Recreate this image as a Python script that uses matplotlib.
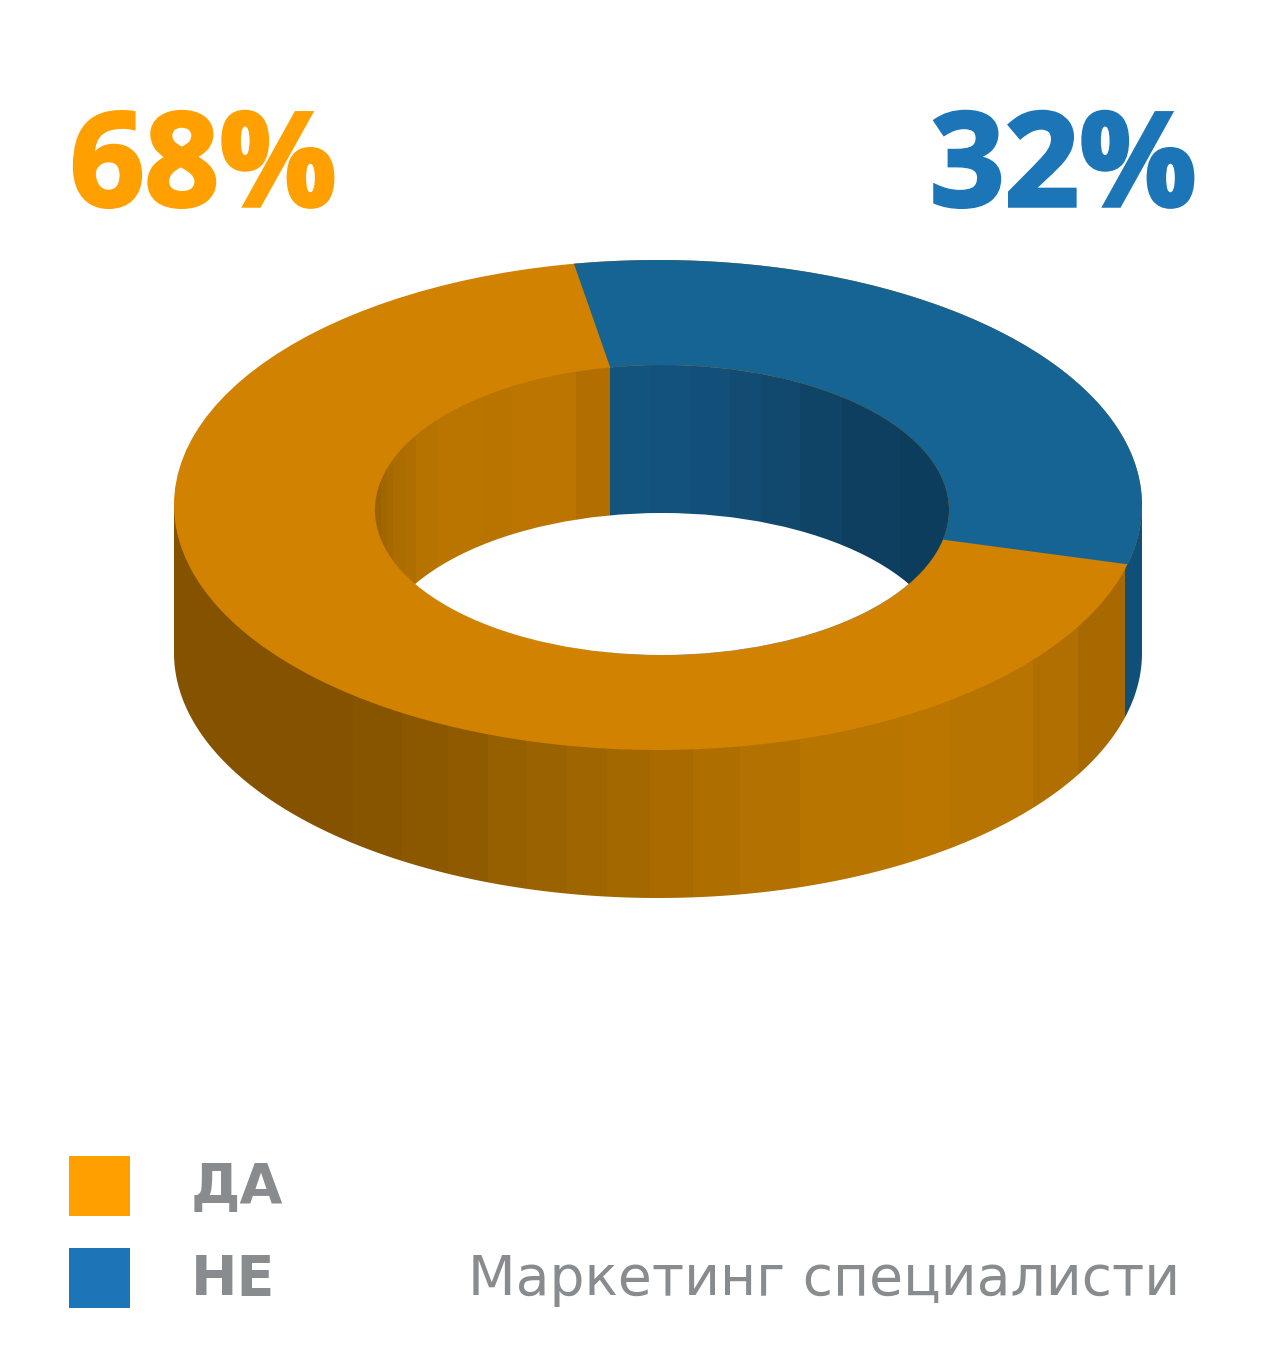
import numpy as np
import matplotlib
matplotlib.use("Agg")
import matplotlib.pyplot as plt
from matplotlib.colors import to_rgb
from matplotlib.patches import Ellipse, Polygon, Rectangle
import matplotlib.patheffects as pe

labels = ["ДА", "НЕ"]
shares = [68, 32]
pct_labels = ["68%", "32%"]
caption = "Маркетинг специалисти"

ORANGE = "#ffa000"
BLUE = "#1b75b7"
GREY = "#898c8e"
TOP_ORANGE = "#d08200"
TOP_BLUE = "#166493"

# shading bands of the walls, right edge of each band in pixels
outer_edges = [353, 402, 448, 488, 527, 567, 607, 650, 693, 740, 800, 904, 950, 1033, 1078, 1125]
outer_colors = ["#855300", "#875500", "#8b5800", "#905b00", "#965f00", "#9a6200", "#9f6500", "#a46800",
                "#a96b00", "#ae6e00", "#b27100", "#b87500", "#bb7600", "#b87400", "#b06f00", "#a86a00"]
inner_edges = [381, 387, 393, 405, 416, 437, 485, 512, 576, 610,
               650, 690, 730, 761, 800, 842, 900, 950]
inner_colors = ["#9a6200", "#a26600", "#a66900", "#ab6c00", "#af6f00", "#b67300", "#ba7500", "#b97400", "#bb7500", "#b26f00",
                "#13547f", "#13527c", "#135079", "#124c73", "#11486e", "#104467", "#0e3f60", "#0d3d5d"]
OUTER_RIGHT = "#0f4f78"

# ring geometry in pixels
OUT_CX, OUT_CY, OUT_RX, OUT_RY = 658, 505, 484, 245
IN_CX, IN_CY, IN_RX, IN_RY = 662, 510, 287, 145
DEPTH = 148
START_OUT, SKEW_OUT = 100.0, 1.2
START_IN, SKEW_IN = 100.4, 3.0


def arc(cx, cy, rx, ry, a0, a1, n=200):
    t = np.radians(np.linspace(a0, a1, n))
    return np.column_stack([cx + rx * np.cos(t), cy - ry * np.sin(t)])


def band_image(ax, x0, x1, y0, y1, edges, colors, clip, last=None):
    # one pixel column per x, drawn as an image and clipped to the wall
    xs = np.arange(x0, x1) + 0.5
    ids = np.searchsorted(edges, xs)
    rgb = [to_rgb(c) for c in colors] + [to_rgb(last or colors[-1])]
    row = np.array([rgb[min(i, len(rgb) - 1)] for i in ids])[np.newaxis, :, :]
    im = ax.imshow(row, extent=(x0, x1, y1, y0), aspect="auto", interpolation="nearest", zorder=clip.get_zorder())
    im.set_clip_path(clip)


def heavy(color):
    return [pe.withStroke(linewidth=2.5, foreground=color, joinstyle="miter")]


fig = plt.figure(figsize=(12.8, 13.62), dpi=100)
ax = fig.add_axes([0, 0, 1, 1])

sweep = shares[1] * 3.6

# outer wall
lower = arc(OUT_CX, OUT_CY + DEPTH, OUT_RX, OUT_RY, 180, 360)
wall = Polygon(np.vstack([[[OUT_CX - OUT_RX, OUT_CY]], lower, [[OUT_CX + OUT_RX, OUT_CY]]]),
               closed=True, fc="none", ec="none", zorder=1)
ax.add_patch(wall)
band_image(ax, OUT_CX - OUT_RX, OUT_CX + OUT_RX, OUT_CY, OUT_CY + DEPTH + OUT_RY,
           outer_edges, outer_colors, wall, last=OUTER_RIGHT)

# top surface
ax.add_patch(Ellipse((OUT_CX, OUT_CY), 2 * OUT_RX, 2 * OUT_RY, fc=TOP_ORANGE, ec="none", zorder=2))
outer_arc = arc(OUT_CX, OUT_CY, OUT_RX, OUT_RY, START_OUT, START_OUT - sweep + SKEW_OUT)
inner_arc = arc(IN_CX, IN_CY, IN_RX, IN_RY, START_IN - sweep + SKEW_IN, START_IN)
ax.add_patch(Polygon(np.vstack([outer_arc, inner_arc]), closed=True, fc=TOP_BLUE, ec="none", zorder=3))

# inner wall and the hole
hole = Ellipse((IN_CX, IN_CY), 2 * IN_RX, 2 * IN_RY, fc="none", ec="none", zorder=4)
ax.add_patch(hole)
band_image(ax, IN_CX - IN_RX, IN_CX + IN_RX, IN_CY - IN_RY, IN_CY + IN_RY, inner_edges, inner_colors, hole)
floor = Ellipse((IN_CX, IN_CY + DEPTH), 2 * IN_RX, 2 * IN_RY, fc="white", ec="none", zorder=5)
ax.add_patch(floor)
floor.set_clip_path(Ellipse((IN_CX, IN_CY), 2 * IN_RX, 2 * IN_RY, transform=ax.transData))

# big percent labels
ax.text(70, 206, pct_labels[0], color=ORANGE, family="Open Sans", weight="bold", fontsize=94,
        va="baseline", path_effects=heavy(ORANGE), zorder=6)
ax.text(930, 206, pct_labels[1], color=BLUE, family="Open Sans", weight="bold", fontsize=94,
        va="baseline", path_effects=heavy(BLUE), zorder=6)

# legend
for y, color, name in zip([1156, 1248], [ORANGE, BLUE], labels):
    ax.add_patch(Rectangle((69, y), 61, 60, fc=color, ec="none", zorder=6))
    ax.text(191, y + 47, name, color=GREY, family="DejaVu Sans", weight="bold", fontsize=40,
            va="baseline", zorder=6)
ax.text(468, 1295, caption, color=GREY, family="DejaVu Sans", fontsize=39.8, va="baseline", zorder=6)

ax.set_xlim(0, 1280)
ax.set_ylim(1362, 0)
ax.axis("off")

fig.savefig("out.png", dpi=100, facecolor="white")
